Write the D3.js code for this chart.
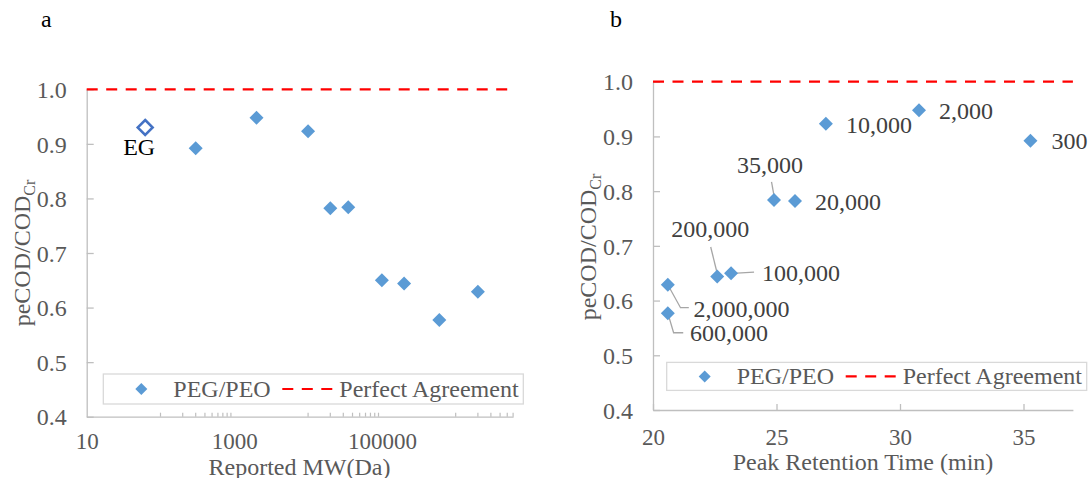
<!DOCTYPE html>
<html>
<head>
<meta charset="utf-8">
<script src="https://cdn.jsdelivr.net/npm/d3@7"></script>
<style>
  body { margin: 0; background: #fff; }
  text { font-family: "Liberation Serif", "Times New Roman", serif; }
</style>
</head>
<body>
<div id="chart"></div>
<script>
// data
const mw        = [300, 2000, 10000, 20000, 35000, 100000, 200000, 600000, 2000000];
const mwLabels  = ["300", "2,000", "10,000", "20,000", "35,000", "100,000", "200,000", "600,000", "2,000,000"];
const ratio     = [0.892, 0.948, 0.923, 0.782, 0.784, 0.650, 0.644, 0.577, 0.629];
const retention = [35.28, 30.77, 27.0, 25.75, 24.9, 23.16, 22.6, 20.6, 20.6];
const egMW = 62, egRatio = 0.930;

const yTicks  = [0.4, 0.5, 0.6, 0.7, 0.8, 0.9, 1.0];
const xTicksA = [10, 1000, 100000];
const xTicksB = [20, 25, 30, 35];

// label placement for panel b (offset from the point, leader line points)
const labelPos = [
  {dx: 21, dy: 0, anchor: "start"},
  {dx: 20, dy: 1, anchor: "start"},
  {dx: 20, dy: 1, anchor: "start"},
  {dx: 20, dy: 1, anchor: "start"},
  {dx: -4, dy: -35, anchor: "middle", leader: [[-2.5, -18], [0, -4]]},
  {dx: 31, dy: 0, anchor: "start", leader: [[6, 0], [23, -1]]},
  {dx: -7, dy: -47, anchor: "middle", leader: [[-6.5, -29.5], [0, -3]]},
  {dx: 22.3, dy: 19.6, anchor: "start", leader: [[0, 0], [5.8, 19.6], [15.4, 19.6]]},
  {dx: 25.7, dy: 24.5, anchor: "start", leader: [[0, 0], [12.7, 23], [21, 23]]}
];

const W = 1091, H = 478;
const blue = "#5B9BD5", red = "#FF0000", axisCol = "#BFBFBF", tickText = "#595959";

const svg = d3.select("#chart").append("svg")
  .attr("width", W).attr("height", H);

const diamond = r => `M0,${-r}L${r},0L0,${r}L${-r},0Z`;

function yAxis(g, y) {
  g.call(d3.axisLeft(y).tickValues(yTicks).tickFormat(d3.format(".1f"))
      .tickSizeInner(-7).tickSizeOuter(0).tickPadding(20));
  g.select(".domain").attr("stroke", axisCol).attr("stroke-width", 1.3);
  g.selectAll(".tick line").attr("stroke", axisCol).attr("stroke-width", 1.3);
  g.selectAll(".tick text").attr("fill", tickText).attr("font-size", 24)
    .attr("font-family", "Liberation Serif").attr("dy", "0.34em");
}

function yTitle(x, y) {
  const t = svg.append("text")
    .attr("transform", `translate(${x},${y}) rotate(-90)`)
    .attr("text-anchor", "middle")
    .attr("fill", tickText)
    .attr("font-size", 24);
  t.append("tspan").text("peCOD/COD");
  t.append("tspan").attr("font-size", 16).attr("dy", 5).text("Cr");
}

function legend(x0, y0, w, h) {
  const g = svg.append("g").attr("transform", `translate(${x0},${y0})`);
  g.append("rect").attr("width", w).attr("height", h)
    .attr("fill", "#fff").attr("stroke", "#D9D9D9").attr("stroke-width", 1.3);
  const cy = h / 2;
  g.append("path").attr("d", diamond(6)).attr("fill", blue)
    .attr("transform", `translate(38,${cy})`);
  g.append("text").attr("x", 70).attr("y", cy + 8).attr("font-size", 24)
    .attr("fill", tickText).text("PEG/PEO");
  g.append("line").attr("x1", 179).attr("x2", 229).attr("y1", cy).attr("y2", cy)
    .attr("stroke", red).attr("stroke-width", 2.2).attr("stroke-dasharray", "11,8.5");
  g.append("text").attr("x", 236).attr("y", cy + 8).attr("font-size", 24)
    .attr("fill", tickText).text("Perfect Agreement");
}

// ---------------- panel a ----------------
const xA = d3.scaleLog().domain([10, 6e6]).range([86.7, 513.1]);
const yA = d3.scaleLinear().domain([0.4, 1.0]).range([416.7, 89.3]);

svg.append("text").attr("x", 41).attr("y", 27).attr("font-size", 24).text("a");

svg.append("g").attr("transform", "translate(86.7,0)").call(g => yAxis(g, yA));

const gxA = svg.append("g").attr("transform", "translate(0,416.7)");
gxA.call(d3.axisBottom(xA).tickValues(xTicksA).tickFormat(d3.format("d"))
    .tickSize(0).tickPadding(16));
gxA.select(".domain").attr("stroke", axisCol).attr("stroke-width", 1.3);
gxA.selectAll(".tick text").attr("fill", tickText).attr("font-size", 23)
  .attr("font-family", "Liberation Serif");

// minor ticks every other decade, as in the original
const minorA = [];
[100, 1e4, 1e6].forEach(b => d3.range(1, 10).forEach(k => {
  if (b * k <= xA.domain()[1]) minorA.push(b * k);
}));
gxA.selectAll(".minor").data(minorA).join("line")
  .attr("x1", d => xA(d)).attr("x2", d => xA(d))
  .attr("y1", 0).attr("y2", -4)
  .attr("stroke", axisCol).attr("stroke-width", 1.2);

svg.append("text").attr("x", 299.5).attr("y", 474.5).attr("text-anchor", "middle")
  .attr("font-size", 24).attr("fill", tickText).text("Reported MW(Da)");

yTitle(30, 253);

svg.append("line").attr("x1", xA.range()[0]).attr("x2", xA.range()[1])
  .attr("y1", yA(1)).attr("y2", yA(1))
  .attr("stroke", red).attr("stroke-width", 2.2).attr("stroke-dasharray", "11,8.5");

legend(103.3, 374, 420, 30);

svg.append("path").attr("d", diamond(7.5))
  .attr("transform", `translate(${xA(egMW)},${yA(egRatio)})`)
  .attr("fill", "#fff").attr("stroke", "#4472C4").attr("stroke-width", 2.5);
svg.append("text").attr("x", xA(egMW) - 22).attr("y", yA(egRatio) + 28)
  .attr("font-size", 24).attr("fill", "#000").text("EG");

svg.append("g").selectAll("path").data(mw).join("path")
  .attr("d", diamond(7))
  .attr("transform", (d, i) => `translate(${xA(d)},${yA(ratio[i])})`)
  .attr("fill", blue);

// ---------------- panel b ----------------
const xB = d3.scaleLinear().domain([20, 37]).range([653, 1072.9]);
const yB = d3.scaleLinear().domain([0.4, 1.0]).range([410, 81.7]);

svg.append("text").attr("x", 610).attr("y", 27).attr("font-size", 24).text("b");

svg.append("g").attr("transform", "translate(653,0)").call(g => yAxis(g, yB));

const gxB = svg.append("g").attr("transform", "translate(0,410)");
gxB.call(d3.axisBottom(xB).tickValues(xTicksB).tickSizeInner(-6).tickSizeOuter(0).tickPadding(19));
gxB.select(".domain").attr("stroke", axisCol).attr("stroke-width", 1.3);
gxB.selectAll(".tick line").attr("stroke", axisCol).attr("stroke-width", 1.3);
gxB.selectAll(".tick text").attr("fill", tickText).attr("font-size", 23)
  .attr("font-family", "Liberation Serif");

svg.append("text").attr("x", 863).attr("y", 469.5).attr("text-anchor", "middle")
  .attr("font-size", 24).attr("fill", tickText).text("Peak Retention Time (min)");

yTitle(596, 247);

svg.append("line").attr("x1", xB.range()[0]).attr("x2", xB.range()[1])
  .attr("y1", yB(1)).attr("y2", yB(1))
  .attr("stroke", red).attr("stroke-width", 2.2).attr("stroke-dasharray", "11,8.5");

legend(666.7, 362.4, 420, 28);

const pts = mw.map((d, i) => ({x: xB(retention[i]), y: yB(ratio[i]), label: mwLabels[i], p: labelPos[i]}));

svg.append("g").selectAll("path").data(pts.filter(d => d.p.leader)).join("path")
  .attr("d", d => d3.line()(d.p.leader.map(([a, b]) => [d.x + a, d.y + b])))
  .attr("fill", "none").attr("stroke", "#A6A6A6").attr("stroke-width", 1.3);

svg.append("g").selectAll("path").data(pts).join("path")
  .attr("d", diamond(7))
  .attr("transform", d => `translate(${d.x},${d.y})`)
  .attr("fill", blue);

svg.append("g").selectAll("text").data(pts).join("text")
  .attr("x", d => d.x + d.p.dx).attr("y", d => d.y + d.p.dy + 8)
  .attr("text-anchor", d => d.p.anchor)
  .attr("font-size", 24).attr("fill", "#404040")
  .text(d => d.label);
</script>
</body>
</html>
